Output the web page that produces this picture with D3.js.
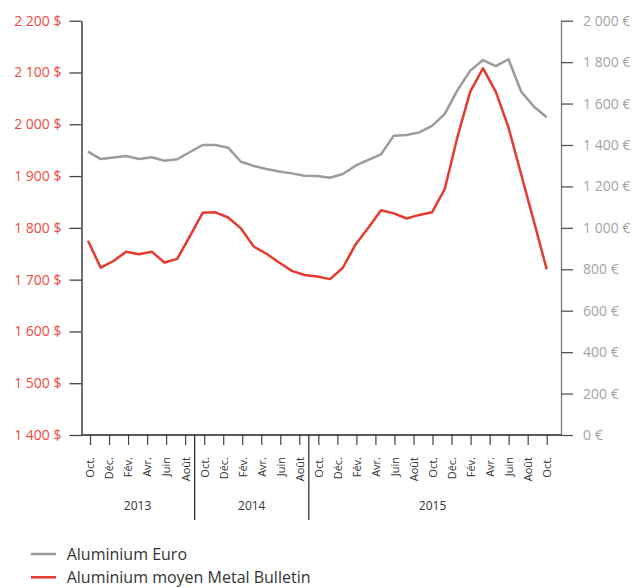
<!DOCTYPE html>
<html lang="fr">
<head>
<meta charset="utf-8">
<script src="https://d3js.org/d3.v7.min.js"></script>
<title>Aluminium</title>
<style>
body{
margin:0;
background:#ffffff;
font-family: 'Open Sans', sans-serif;
}
svg{
display:block;
}
</style>
</head>
<body>
<svg width="637" height="587"></svg>

<script>
// monthly values, Oct. 2012 -> Oct. 2015
var aluUsd = [1775, 1723, 1736, 1754, 1749, 1754, 1733, 1740, 1784, 1829,
              1830, 1820, 1799, 1764, 1750, 1733, 1717, 1709, 1706, 1701,
              1723, 1768, 1800, 1834, 1828, 1818, 1825, 1830, 1875, 1976,
              2063, 2108, 2063, 1994, 1903, 1812, 1720];

var aluEur = [1368, 1332, 1340, 1347, 1332, 1341, 1324, 1331, 1366, 1400,
              1400, 1387, 1319, 1299, 1284, 1272, 1263, 1252, 1250, 1242,
              1260, 1300, 1328, 1355, 1445, 1448, 1461, 1492, 1550, 1665,
              1759, 1810, 1781, 1814, 1657, 1585, 1534];

var monthLabels = ["Oct.","Déc.","Fév.","Avr.","Juin","Août",
                   "Oct.","Déc.","Fév.","Avr.","Juin","Août",
                   "Oct.","Déc.","Fév.","Avr.","Juin","Août",
                   "Oct.","Déc.","Fév.","Avr.","Juin","Août","Oct."];

var years = ["2013","2014","2015"];
var yearStart = [0, 6, 12];
var yearEnd = [5, 11, 24];

var usdTicks = [1400,1500,1600,1700,1800,1900,2000,2100,2200];
var eurTicks = [0,200,400,600,800,1000,1200,1400,1600,1800,2000];

var seriesNames = ["Aluminium Euro","Aluminium moyen Metal Bulletin"];

var red = "#e63a2e";
var grey = "#9b9b9b";

var axisLeftX = 81.5;
var axisRightX = 561;
var plotTop = 20.7;
var plotBottom = 435;

var svg = d3.select("svg");

var x = d3.scaleLinear()
.domain([0, aluUsd.length-1])
.range([88, 546.7]);

var xm = d3.scalePoint()
.domain(d3.range(monthLabels.length))
.range([90, 546.7]);

var yL = d3.scaleLinear().domain([1400,2200]).range([plotBottom, plotTop]);
var yR = d3.scaleLinear().domain([0,2000]).range([plotBottom, plotTop]);

function spaced(d){ return d3.format(",")(d).replace(/,/g," "); }

var gl = svg.append("g")
.attr("transform","translate("+axisLeftX+",0)")
.call(d3.axisLeft(yL).tickValues(usdTicks).tickSize(12).tickSizeOuter(0).tickPadding(8)
  .tickFormat(function(d){ return spaced(d)+" $"; }));
gl.select(".domain").attr("stroke","#222").attr("stroke-width",1.3);
gl.selectAll(".tick line").attr("stroke","#444").attr("stroke-width",1.3);
gl.selectAll(".tick text").attr("fill","#ee4a3e").attr("font-size",14)
.attr("font-family","'Open Sans', sans-serif");

var gr = svg.append("g")
.attr("transform","translate("+axisRightX+",0)")
.call(d3.axisRight(yR).tickValues(eurTicks).tickSize(12).tickSizeOuter(0).tickPadding(10)
  .tickFormat(function(d){ return spaced(d)+" €"; }));
gr.select(".domain").attr("stroke","#7a7a7a").attr("stroke-width",1.3);
gr.selectAll(".tick line").attr("stroke","#555").attr("stroke-width",1.3);
gr.selectAll(".tick text").attr("fill","#a3a3a3").attr("font-size",14)
.attr("font-family","'Open Sans', sans-serif");

var gb = svg.append("g")
.attr("transform","translate(0,"+plotBottom+")")
.call(d3.axisBottom(xm).tickSize(10).tickSizeOuter(0)
  .tickFormat(function(d){ return monthLabels[d]; }));
gb.select(".domain").remove();
gb.selectAll(".tick line").attr("stroke","#444").attr("stroke-width",1.2);
gb.selectAll(".tick text")
.attr("transform","rotate(-90)")
.attr("x",-22)
.attr("y",0)
.attr("dy","0.35em")
.style("text-anchor","end")
.attr("fill","#333")
.attr("font-size",11)
.attr("font-family","'Open Sans', sans-serif");

svg.append("line")
.attr("x1",axisLeftX).attr("x2",axisRightX)
.attr("y1",plotBottom).attr("y2",plotBottom)
.attr("stroke","#222").attr("stroke-width",1.3);

// year separators and labels
for (var i=1;i<years.length;i++){
  var sx = (xm(yearEnd[i-1]) + xm(yearStart[i]))/2;
  svg.append("line")
  .attr("x1",sx).attr("x2",sx)
  .attr("y1",plotBottom).attr("y2",520)
  .attr("stroke","#222").attr("stroke-width",1.2);
}

svg.selectAll(".year")
.data(years).enter()
.append("text")
.attr("class","year")
.attr("x",function(d,i){ return (xm(yearStart[i])+xm(yearEnd[i]))/2; })
.attr("y",510)
.attr("text-anchor","middle")
.attr("font-size",12)
.attr("fill","#333")
.text(function(d){ return d; });

var lineUsd = d3.line()
.x(function(d,i){ return x(i); })
.y(function(d){ return yL(d); });

var lineEur = d3.line()
.x(function(d,i){ return x(i); })
.y(function(d){ return yR(d); });

svg.append("path")
.datum(aluEur)
.attr("d",lineEur)
.attr("fill","none")
.attr("stroke",grey)
.attr("stroke-width",2.5)
.attr("stroke-linejoin","round");

svg.append("path")
.datum(aluUsd)
.attr("d",lineUsd)
.attr("fill","none")
.attr("stroke",red)
.attr("stroke-width",2.5)
.attr("stroke-linejoin","round");

// legend
var legColors = [grey, red];
var leg = svg.selectAll(".leg")
.data(seriesNames).enter()
.append("g")
.attr("class","leg")
.attr("transform",function(d,i){ return "translate(31,"+(554+i*23.3)+")"; });

leg.append("line")
.attr("x1",0).attr("x2",25)
.attr("y1",0).attr("y2",0)
.attr("stroke",function(d,i){ return legColors[i]; })
.attr("stroke-width",2.5);

leg.append("text")
.attr("x",35.7)
.attr("y",5.8)
.attr("font-size",16)
.attr("fill","#333")
.text(function(d){ return d; });
</script>
</body>
</html>
